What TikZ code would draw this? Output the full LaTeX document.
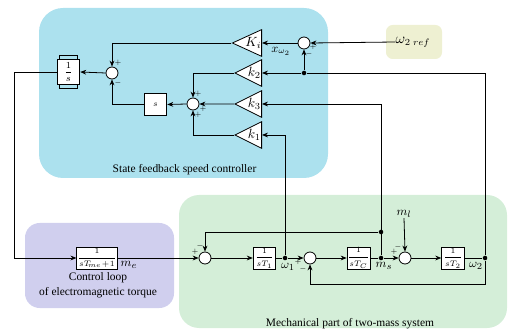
\documentclass[tikz,border=0pt]{standalone}
\usepackage{amsmath}
\usepackage{fontspec}
\setmainfont{Liberation Serif}
\usetikzlibrary{shapes.geometric, arrows.meta, positioning, fit, calc, backgrounds}
\definecolor{ctrlblue}{RGB}{172,225,238}
\definecolor{torqueviolet}{RGB}{208,207,238}
\definecolor{mechgreen}{RGB}{212,238,216}
\definecolor{refyellow}{RGB}{238,240,210}
\tikzset{
  blk/.style={rectangle,draw=black,fill=white,line width=0.6pt,inner sep=0.5pt,minimum width=17pt,minimum height=16.5pt,
              font=\fontsize{6.5}{7.5}\selectfont},
  sumnode/.style={circle,draw=black,fill=white,line width=0.6pt,minimum size=9pt,inner sep=0pt},
  gainnode/.style={isosceles triangle,shape border rotate=180,isosceles triangle stretches,draw=black,fill=white,
                   line width=0.6pt,minimum width=20pt,minimum height=19.5pt,inner sep=0pt,font=\fontsize{10}{12}\selectfont},
  dotnode/.style={circle,fill=black,minimum size=3.4pt,inner sep=0pt},
  sgn/.style={font=\tiny,inner sep=0pt},
  sig/.style={font=\fontsize{9.5}{11}\selectfont,inner sep=0pt},
  arr/.style={-{Stealth[length=4.5pt,width=3.6pt]},line width=0.6pt},
  wire/.style={line width=0.6pt},
  region/.style={rectangle,inner sep=0pt,draw=none},
  title/.style={font=\fontsize{8.6}{11}\selectfont,align=center,inner sep=0pt}
}

\begin{document}
\begin{tikzpicture}[x=0.75pt,y=-0.75pt]
  \useasboundingbox (0,0) rectangle (509,334);

  % speed controller
  \node[sig,font=\fontsize{10.5}{12}\selectfont] (wref) at (413,42) {$\omega_{2\;ref}$};
  \node[sumnode] (sumref) at (304,43) {};
  \node[gainnode,anchor=east] (Ki) at (262,43) {$K_i$};
  \node[gainnode,anchor=east] (k2) at (262,73) {$k_2$};
  \node[gainnode,anchor=east] (k3) at (262,104) {$k_3$};
  \node[gainnode,anchor=east] (k1) at (262,135) {$k_1$};
  \node[dotnode] (branch) at (304,73) {};
  \node[sumnode] (sumA) at (112,73) {};
  \node[sumnode] (sumB) at (193,104) {};
  \node[blk] (sblk) at (155.5,104.5) {$s$};
  \node[blk,minimum height=18.75pt,font=\fontsize{7.5}{8.5}\selectfont] (intblk) at (68.5,72) {$\dfrac{1}{s}$};
  \node[sig,font=\fontsize{9}{11}\selectfont] (xw) at (281,51) {$x_{\omega_2}$};
  \node[title] (ctrltitle) at (184.5,170) {State feedback speed controller};

  % torque loop
  \coordinate (leftrail) at (14,258);
  \node[blk,minimum width=26pt,font=\fontsize{6}{7}\selectfont] (tmeblk) at (97,258) {$\dfrac{1}{sT_{\!me}\!+\!1}$};
  \node[sig] (me) at (129,265) {$m_e$};
  \node[title] (torquetitle) at (98,285) {Control loop\\of electromagnetic torque};

  % two-mass system
  \node[sumnode] (sum1) at (205,258) {};
  \node[blk] (T1) at (264.5,258) {$\dfrac{1}{sT_1}$};
  \node[dotnode] (w1dot) at (285,258) {};
  \node[sig] (w1) at (288,267) {$\omega_1$};
  \node[sumnode] (sum2) at (310,258) {};
  \node[blk] (TC) at (358.5,258) {$\dfrac{1}{sT_C}$};
  \node[dotnode] (msdot) at (381,258) {};
  \node[dotnode] (msbranch) at (381,232) {};
  \node[sig] (ms) at (384,266) {$m_s$};
  \node[sig] (ml) at (404,214) {$m_l$};
  \node[sumnode] (sum3) at (405,258) {};
  \node[blk] (T2) at (453,258) {$\dfrac{1}{sT_2}$};
  \node[dotnode] (w2dot) at (485,258) {};
  \node[sig] (w2) at (476,266) {$\omega_2$};
  \coordinate (fbw2) at (485,284);
  \node[title] (mechtitle) at (350,324) {Mechanical part of two-mass system};

  % signs at the summing points
  \node[sgn] at (313,47) {$+$};  \node[sgn] at (309,54) {$-$};
  \node[sgn] at (118,63) {$+$};  \node[sgn] at (118,83) {$-$};
  \node[sgn] at (198,94) {$+$};  \node[sgn] at (203,109) {$+$};  \node[sgn] at (198,115) {$+$};
  \node[sgn] at (195,252) {$+$}; \node[sgn] at (200,246) {$-$};
  \node[sgn] at (298,262) {$+$}; \node[sgn] at (303,269) {$-$};
  \node[sgn] at (394,252) {$+$}; \node[sgn] at (398,247) {$-$};

  % limits of the integrator
  \draw[wire] ([xshift=2.2pt]intblk.north west) -- ++(0pt,2.6pt) -| ([xshift=-2.2pt]intblk.north east);
  \draw[wire] ([xshift=2.2pt]intblk.south west) -- ++(0pt,-2.6pt) -| ([xshift=-2.2pt]intblk.south east);

  % connections
  \draw[arr] (wref.west) -- (sumref.east);
  \draw[arr] (sumref.west) -- (Ki.east);
  \draw[arr] (branch) -- (sumref.south);
  \draw[wire] (w2dot) -- (w2dot |- branch) -- (branch);
  \draw[arr] (branch) -- (k2.east);
  \draw[arr] (msdot) -- (msdot |- k3.east) -- (k3.east);
  \draw[arr] (w1dot) -- (w1dot |- k1.east) -- (k1.east);
  \draw[arr] (Ki.west) -| (sumA.north);
  \draw[arr] (sblk.west) -| (sumA.south);
  \draw[arr] (sumA.west) -- (intblk.east);
  \draw[arr] (k2.west) -| (sumB.north);
  \draw[arr] (k3.west) -- (sumB.east);
  \draw[arr] (k1.west) -| (sumB.south);
  \draw[arr] (sumB.west) -- (sblk.east);
  \draw[arr] (intblk.west) -| (leftrail) -- (tmeblk.west);
  \draw[arr] (tmeblk.east) -- (sum1.west);
  \draw[arr] (sum1.east) -- (T1.west);
  \draw[wire] (T1.east) -- (w1dot);
  \draw[arr] (w1dot) -- (sum2.west);
  \draw[arr] (sum2.east) -- (TC.west);
  \draw[wire] (TC.east) -- (msdot);
  \draw[arr] (msdot) -- (sum3.west);
  \draw[arr] (sum3.east) -- (T2.west);
  \draw[wire] (T2.east) -- (w2dot);
  \draw[arr] (w2dot) -- (fbw2) -| (sum2.south);
  \draw[arr] (msbranch) -| (sum1.north);
  \draw[arr] (ml.south) -- (sum3.north);

  \begin{pgfonlayer}{background}
    \node[region,fill=ctrlblue,rounded corners=18pt,fit={(39,8) (328,178)}] (ctrlbg) {};
    \node[region,fill=torqueviolet,rounded corners=11pt,fit={(25,223) (174,308)}] (torquebg) {};
    \node[region,fill=mechgreen,rounded corners=15pt,fit={(179,195) (507,328)}] (mechbg) {};
    \node[region,fill=refyellow,rounded corners=5pt,fit={(386,25) (442,59)}] (refbg) {};
  \end{pgfonlayer}
\end{tikzpicture}
\end{document}
